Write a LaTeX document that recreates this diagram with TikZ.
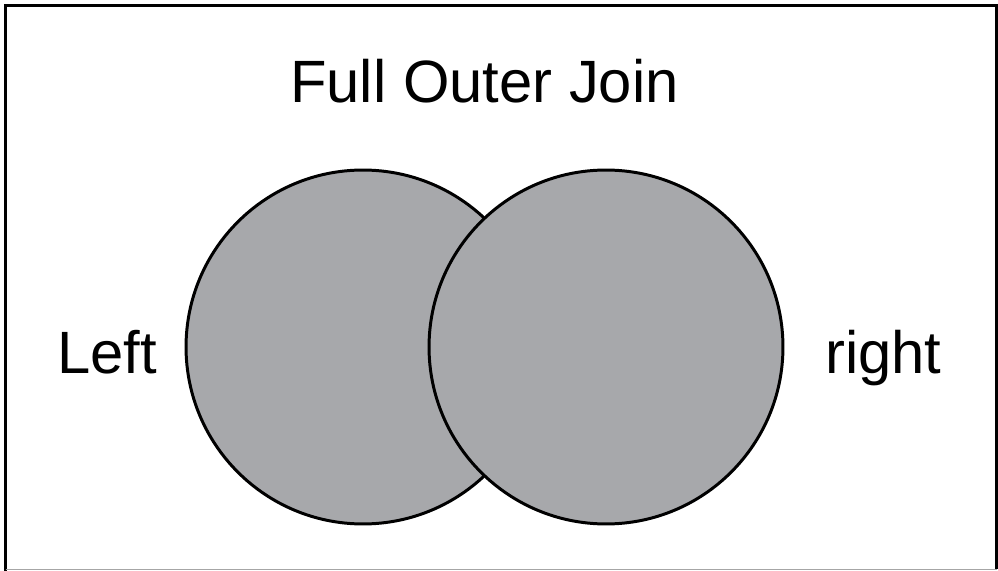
\documentclass[tikz,border=0pt]{standalone}
\usepackage{fontspec}
\setmainfont{Liberation Sans}
\usepackage{xcolor}
\usetikzlibrary{positioning}
\definecolor{setgray}{HTML}{A7A8AB}
\tikzset{
  setnode/.style={circle,draw=black,line width=1.7pt,fill=setgray,minimum size=7.08cm,inner sep=0pt},
  lblnode/.style={inner sep=0pt,font=\fontsize{34}{40}\selectfont,anchor=base},
}
\begin{document}
\begin{tikzpicture}[x=0.02cm,y=-0.02cm]
  \useasboundingbox (0,0) rectangle (998,571);
  \draw[line width=2.2pt,black] (5.5,571) -- (5.5,5.5) -- (996.5,5.5) -- (996.5,569);
  \draw[line width=0.8pt,black!35] (5.5,569.5) -- (996.5,569.5);
  \node[setnode] (nL) at (363,347) {};
  \node[setnode] (nR) at (606,347) {};
  \node[lblnode] (tTitle) at (484.5,103) {Full Outer Join};
  \node[lblnode,anchor=base west] (tLeft) at (57,373) {Left};
  \node[lblnode,anchor=base west] (tRight) at (825,373) {right};
\end{tikzpicture}
\end{document}
